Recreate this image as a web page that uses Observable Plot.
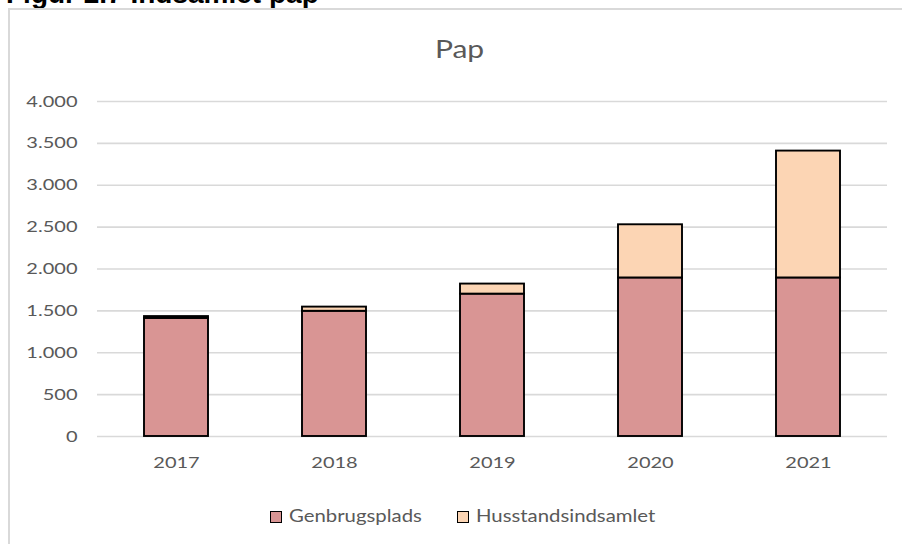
<!DOCTYPE html>
<html>
<head>
<meta charset="utf-8">
<script src="https://cdn.jsdelivr.net/npm/d3@7"></script>
<script src="https://cdn.jsdelivr.net/npm/@observablehq/plot@0.6"></script>
<style>
  body { margin: 0; background: #fff; }
  #wrap { position: relative; width: 902px; height: 544px; overflow: hidden; background: #fff; }
  #fig { position: absolute; left: 6px; top: -20px; font: bold 28px Arial, "Liberation Sans", sans-serif; line-height: 28px; color: #000; white-space: nowrap; }
  #box { position: absolute; left: 8px; top: 8px; width: 940px; height: 580px; border: 2px solid #d9d9d9; box-sizing: border-box; }
  #title { position: absolute; left: 0; width: 920px; top: 36px; text-align: center; font: 25px Lato, sans-serif; line-height: 25px; color: #595959; }
  #title span { display: inline-block; transform: scaleX(1.2); transform-origin: center; }
  #chart { position: absolute; left: 0; top: 80px; }
  .leg { position: absolute; top: 506px; font: 18px Lato, sans-serif; line-height: 18px; color: #595959; white-space: nowrap; }
  .leg .sw { position: absolute; top: 5px; width: 12px; height: 12px; border: 1.5px solid #000; box-sizing: border-box; }
  .leg .tx { position: absolute; left: 19px; top: 0; display: inline-block; transform: scaleX(1.13); transform-origin: left center; }
</style>
</head>
<body>
<div id="wrap">
  <div id="fig">Figur 2.7 Indsamlet pap</div>
  <div id="box"></div>
  <div id="title"><span>Pap</span></div>
  <div id="chart"></div>
  <div id="legend"></div>
</div>
<script>
const years = ["2017", "2018", "2019", "2020", "2021"];
const seriesNames = ["Genbrugsplads", "Husstandsindsamlet"];
const genbrugsplads = [1410, 1495, 1700, 1893, 1893];
const husstandsindsamlet = [22, 50, 120, 635, 1515];
const seriesColors = ["#d99594", "#fcd5b4"];
const yTicks = [0, 500, 1000, 1500, 2000, 2500, 3000, 3500, 4000];

const data = years.flatMap((yr, i) => [
  {year: yr, serie: seriesNames[0], value: genbrugsplads[i]},
  {year: yr, serie: seriesNames[1], value: husstandsindsamlet[i]}
]);

const fmt = d3.formatLocale({decimal: ",", thousands: ".", grouping: [3], currency: ["", ""]}).format(",d");

const chart = Plot.plot({
  width: 902,
  height: 400,
  marginLeft: 97,
  marginRight: 15,
  marginTop: 21,
  marginBottom: 44,
  style: {fontFamily: "Lato, sans-serif", fontSize: "16px", color: "#595959", background: "none", overflow: "visible"},
  x: {domain: years, paddingInner: 0.595, paddingOuter: 0.2975, label: null},
  y: {domain: [0, 4000], label: null},
  color: {domain: seriesNames, range: seriesColors},
  marks: [
    Plot.gridY(yTicks, {stroke: "#d9d9d9", strokeOpacity: 1, strokeWidth: 1.6}),
    Plot.axisY(yTicks, {tickSize: 0, tickPadding: 20, tickFormat: fmt, label: null}),
    Plot.axisX({tickSize: 0, tickPadding: 20, label: null}),
    Plot.barY(data, {x: "year", y: "value", fill: "serie", stroke: "#000", strokeWidth: 1.9})
  ]
});
document.getElementById("chart").appendChild(chart);

// Widen tick labels to match the stretched look of the original
function widen(sel, s) {
  chart.querySelectorAll(sel).forEach(t => {
    let tr = t.getAttribute("transform");
    if (!tr) {
      const x = t.getAttribute("x") || 0, y = t.getAttribute("y") || 0;
      t.removeAttribute("x"); t.removeAttribute("y");
      tr = `translate(${x},${y})`;
    }
    t.setAttribute("transform", tr + ` scale(${s},1)`);
  });
}
widen('[aria-label="y-axis tick label"] text', 1.25);
widen('[aria-label="x-axis tick label"] text', 1.25);

// Legend
const legend = document.getElementById("legend");
const legX = [270, 457];
seriesNames.forEach((name, i) => {
  const item = document.createElement("div");
  item.className = "leg";
  item.style.left = legX[i] + "px";
  const sw = document.createElement("div");
  sw.className = "sw";
  sw.style.background = seriesColors[i];
  const tx = document.createElement("span");
  tx.className = "tx";
  tx.textContent = name;
  item.appendChild(sw);
  item.appendChild(tx);
  legend.appendChild(item);
});
</script>
</body>
</html>
